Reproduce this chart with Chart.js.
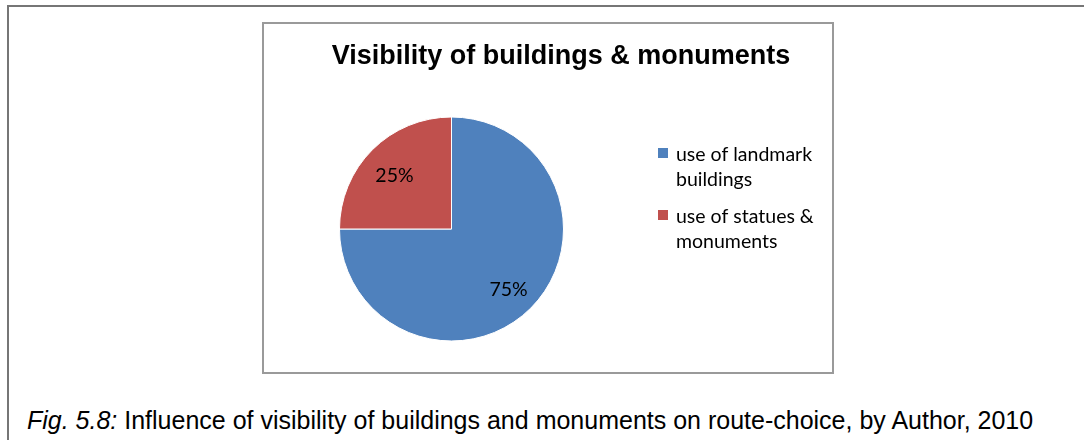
<!DOCTYPE html>
<html>
<head>
<meta charset="utf-8">
<script src="https://cdn.jsdelivr.net/npm/chart.js@4/dist/chart.umd.min.js"></script>
<style>
  html, body { margin: 0; padding: 0; background: #fff; }
  body { width: 1084px; height: 440px; position: relative; overflow: hidden; }
  #frame {
    position: absolute; left: 7px; top: 5px; width: 1100px; height: 500px;
    border-left: 2px solid #767676; border-top: 2px solid #767676;
  }
  #box {
    position: absolute; left: 262px; top: 22px; width: 568px; height: 348px;
    border: 2px solid #9a9a9a;
  }
  #chartWrap { position: absolute; left: 264px; top: 24px; width: 568px; height: 348px; }
  #caption {
    position: absolute; left: 27px; top: 408px; white-space: nowrap;
    font: 25px/25px "Liberation Sans", Arial, sans-serif; color: #000;
  }
</style>
</head>
<body>
<div id="frame"></div>
<div id="box"></div>
<div id="chartWrap"><canvas id="pie-chart"></canvas></div>
<div id="caption"><i>Fig. 5.8:</i> Influence of visibility of buildings and monuments on route-choice, by Author, 2010</div>

<script>
// Chart data
var chartTitle = 'Visibility of buildings & monuments';
var categories = [['use of landmark', 'buildings'], ['use of statues &', 'monuments']];
var shares = [75, 25];
var sliceColors = ['#4F81BD', '#C0504D'];

var labelFont = '19.5px Lato, "Noto Sans", sans-serif';

// title, legend and percent labels drawn on top of the pie
var decorations = {
    id: 'decorations',
    afterDraw: function(chart){
        var ctx = chart.ctx;
        ctx.save();
        ctx.fillStyle = '#000';

        // title
        ctx.font = 'bold 27px "Liberation Sans", Arial, sans-serif';
        ctx.textAlign = 'center';
        ctx.textBaseline = 'alphabetic';
        ctx.fillText(chartTitle, 297, 40);

        // percent labels inside the slices
        var meta = chart.getDatasetMeta(0);
        var total = shares.reduce(function(a, b){ return a + b; }, 0);
        ctx.font = labelFont;
        meta.data.forEach(function(arc, i){
            var p = arc.getProps(['x', 'y', 'startAngle', 'endAngle', 'outerRadius'], true);
            var mid = (p.startAngle + p.endAngle) / 2;
            var r = p.outerRadius * 0.72;
            var lx = p.x + Math.cos(mid) * r;
            var ly = p.y + Math.sin(mid) * r;
            ctx.fillText(Math.round(shares[i] / total * 100) + '%', lx, ly + 10);
        });

        // legend
        ctx.textAlign = 'left';
        var y = 137;
        categories.forEach(function(lines, i){
            ctx.fillStyle = sliceColors[i];
            ctx.fillRect(394, y - 13, 10, 10);
            ctx.fillStyle = '#000';
            lines.forEach(function(line, j){
                ctx.fillText(line, 412, y + j * 25);
            });
            y += 62;
        });
        ctx.restore();
    }
};

var ctx = document.getElementById('pie-chart');
var pieChart = new Chart(ctx, {
    type: 'pie',
    data: {
        labels: categories,
        datasets: [{
            data: shares,
            backgroundColor: sliceColors,
            borderColor: '#ffffff',
            borderWidth: 1,
            radius: 112
        }]
    },
    options: {
        responsive: true,
        maintainAspectRatio: false,
        animation: false,
        layout: { padding: { left: 0, right: 193, top: 62, bottom: 0 } },
        plugins: {
            legend: { display: false },
            title: { display: false },
            tooltip: { enabled: false }
        }
    },
    plugins: [decorations]
});
</script>
</body>
</html>
